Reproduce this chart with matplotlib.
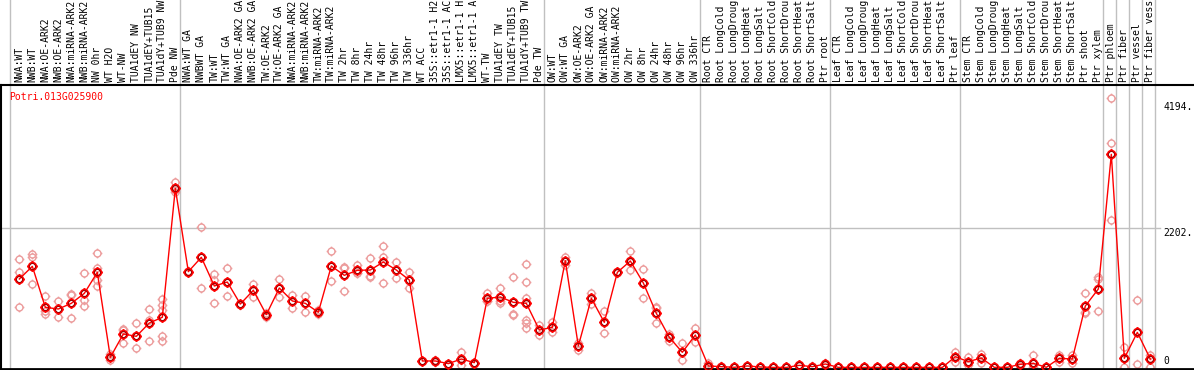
import numpy as np
import matplotlib
matplotlib.use("Agg")
import matplotlib.pyplot as plt
from matplotlib.path import Path

gene = "Potri.013G025900"

samples = [
    # group 1
    "NWA:WT", "NWB:WT", "NWA:OE-ARK2", "NWB:OE-ARK2", "NWA:miRNA-ARK2", "NWB:miRNA-ARK2",
    "NW 0hr", "WT H2O", "WT-NW", "TUA1dEY NW", "TUA1dEY+TUB15", "TUA1dY+TUB9 NW", "Pde NW",
    # group 2
    "NWA:WT GA", "NWBWT GA", "TW:WT", "TW:WT GA", "NWA:OE-ARK2 GA", "NWB:OE-ARK2 GA",
    "TW:OE-ARK2", "TW:OE-ARK2 GA", "NWA:miRNA-ARK2 GA", "NWB:miRNA-ARK2 GA", "TW:miRNA-ARK2",
    "TW:miRNA-ARK2 GA", "TW 2hr", "TW 8hr", "TW 24hr", "TW 48hr", "TW 96hr", "TW 336hr",
    "WT ACC", "35S::etr1-1 H2O", "35S::etr1-1 ACC", "LMX5::etr1-1 H2O", "LMX5::etr1-1 ACC",
    "WT-TW", "TUA1dEY TW", "TUA1dEY+TUB15 TW", "TUA1dY+TUB9 TW", "Pde TW",
    # group 3
    "OW:WT", "OW:WT GA", "OW:OE-ARK2", "OW:OE-ARK2 GA", "OW:miRNA-ARK2", "OW:miRNA-ARK2 GA",
    "OW 2hr", "OW 8hr", "OW 24hr", "OW 48hr", "OW 96hr", "OW 336hr",
    # root
    "Root CTR", "Root LongCold", "Root LongDrought", "Root LongHeat", "Root LongSalt",
    "Root ShortCold", "Root ShortDrought", "Root ShortHeat", "Root ShortSalt", "Ptr root",
    # leaf
    "Leaf CTR", "Leaf LongCold", "Leaf LongDrought", "Leaf LongHeat", "Leaf LongSalt",
    "Leaf ShortCold", "Leaf ShortDrought", "Leaf ShortHeat", "Leaf ShortSalt", "Ptr leaf",
    # stem
    "Stem CTR", "Stem LongCold", "Stem LongDrought", "Stem LongHeat", "Stem LongSalt",
    "Stem ShortCold", "Stem ShortDrought", "Stem ShortHeat", "Stem ShortSalt", "Ptr shoot",
    "Ptr xylem",
    "Ptr phloem", "Ptr fiber", "Ptr vessel", "Ptr fiber vessel",
]

# last sample index of each group (a grey separator follows it)
group_ends = [12, 40, 52, 62, 72, 83, 84, 85, 86, 87]

means = [
    1400, 1600, 952, 925, 1015, 1173, 1505, 161, 530, 493, 704, 794, 2834,
    1516, 1743, 1289, 1352, 1004, 1221, 836, 1257, 1052, 1015, 873, 1605, 1458, 1537,
    1542, 1669, 1542, 1384, 103, 103, 61, 134, 76, 1094, 1115, 1031, 1015, 593,
    635, 1690, 340, 1094, 714, 1505, 1685, 1337, 857, 477, 240, 514,
    24, 13, 3, 24, 8, 1, 1, 34, 13, 55,
    2, 1, 1, 1, 2, 1, 1, 1, 1, 171,
    92, 150, 2, 3, 50, 66, 3, 145, 134, 973, 1242,
    3372, 145, 556, 134,
]

replicates = [
    [1716, 1505, 952], [1790, 1753, 1316], [1131, 894, 852], [1052, 925, 794],
    [1163, 1147, 783], [1490, 1068, 973], [1811, 1574, 1384, 1294], [208, 161, 119],
    [604, 590, 382], [699, 493, 303], [920, 751, 424], [1078, 989, 910, 498, 419],
    [2929, 2800, 2771],
    [1530, 1510], [2217, 1263], [1474, 1384, 1015], [1574, 1131], [1010, 995],
    [1316, 1115], [867, 804], [1395, 1120], [1147, 936], [1131, 883], [904, 841],
    [1843, 1363], [1590, 1574, 1210], [1621, 1500, 1490], [1732, 1452, 1431],
    [1917, 1748, 1331], [1669, 1416], [1505, 1257], [110, 96], [113, 100, 82],
    [61, 40], [250, 113, 40], [76, 61], [1173, 1057, 1052], [1263, 1052, 1015],
    [1426, 1031, 841, 826], [1632, 1347, 1105, 751, 699, 620], [672, 514],
    [714, 556], [1753, 1621], [382, 340, 277], [1173, 1094, 999], [888, 540],
    [1516, 1490], [1843, 1674, 1542], [1553, 1337, 1099], [962, 936, 699],
    [530, 419], [382, 113], [625, 409],
    [66, 10], [20, 8], [5, 1], [30, 18], [10, 5], [2, 0], [2, 0], [40, 28], [18, 8], [76, 35],
    [3, 0], [3, 0], [3, 0], [3, 0], [3, 0], [3, 0], [3, 0], [3, 0], [3, 0], [240, 171, 82],
    [161, 76, 40], [214, 150, 66], [5, 0], [10, 0], [76, 25], [198, 13], [5, 0],
    [203, 145, 92], [198, 140, 66], [1173, 883, 857], [1437, 1400, 888],
    [4258, 3546, 2333], [319, 0], [1062, 50], [198, 156, 13],
]

right_labels = ["4194.", "2202.", "0"]
right_values = [4194, 2202, 0]

# the label strip only has room for 14 characters
max_chars = 14

plt.rcParams['font.family'] = ['DejaVu Sans Mono']

# circle with four little ticks, like the original markers
circ = Path.unit_circle()
tv = [(1, 0), (1.4, 0), (-1, 0), (-1.4, 0), (0, 1), (0, 1.4), (0, -1), (0, -1.4)]
tc = [Path.MOVETO, Path.LINETO] * 4
tick_circle = Path(np.vstack([circ.vertices, tv]), list(circ.codes) + tc)

W, H = 1194, 370
fig = plt.figure(figsize=(W / 100, H / 100), dpi=100)
ax = fig.add_axes([1 / W, 1 / H, 1 - 1 / W, 284 / H])

x = np.arange(len(samples))
ax.set_xlim(-1.41, 90.36)
ax.set_ylim(-24, 4469)

pink = '#ec9c9c'
for i, reps in enumerate(replicates):
    ax.plot([i] * len(reps), reps, linestyle='none', marker=tick_circle, ms=7,
            mfc='none', mec=pink, mew=1.0, zorder=2)

ax.plot(x, means, color='#ff0000', lw=1.0, zorder=3)
ax.plot(x, means, linestyle='none', marker=tick_circle, ms=7.5, mfc='none',
        mec='#ff0000', mew=1.5, zorder=4)
ax.plot(x, means, linestyle='none', marker='o', ms=4.2, mfc='none',
        mec='#700000', mew=0.5, zorder=5)

# separators, running up through the label strip
top_ext = 369 / 284
ax.axvline(-0.72, ymin=0, ymax=top_ext, color='#c0c0c0', lw=1, clip_on=False, zorder=1)
for g in group_ends:
    ax.axvline(g + 0.38, ymin=0, ymax=top_ext, color='#c0c0c0', lw=1, clip_on=False, zorder=1)

ax.axhline(2202, xmin=0, xmax=(1160 - 1) / 1193, color='#c0c0c0', lw=1, zorder=1)

ax.spines['right'].set_visible(False)
ax.spines['top'].set_linewidth(1.5)
ax.spines['bottom'].set_linewidth(2)
ax.spines['left'].set_linewidth(1.5)
ax.set_xticks([])
ax.set_yticks([])

# sample names, vertical, above the plot
for i, name in enumerate(samples):
    ax.text(i, 1 + 3 / 284, name[:max_chars], transform=ax.get_xaxis_transform(),
            rotation=90, ha='center', va='bottom', fontsize=7, color='black',
            clip_on=False)

ax.text((9 - 1) / 1193, 0.975, gene, transform=ax.transAxes, color='red',
        fontsize=7, ha='left', va='top')

xr = (1163 - 1) / 1193
for lab, v in zip(right_labels, right_values):
    va = 'bottom' if v == 0 else 'top'
    ax.text(xr, v + (25 if v == 0 else 0), lab, transform=ax.get_yaxis_transform(),
            fontsize=7, ha='left', va=va, color='black')

fig.savefig("out.png", dpi=100)
